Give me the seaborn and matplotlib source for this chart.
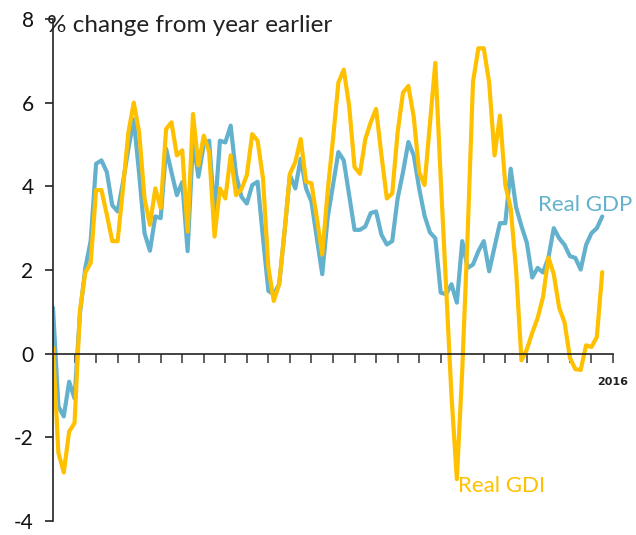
import numpy as np
import pandas as pd
import matplotlib.pyplot as plt
import seaborn as sns

# Quarterly series, 1990 Q1 to 2015 Q3, % change from a year earlier
start_year = 1990
real_gdp = [1.1, -1.26, -1.5, -0.67, -1.07, 0.95, 2.05, 2.7, 4.54, 4.62,
            4.34, 3.55, 3.4, 4.1, 4.9, 5.6, 4.3, 2.88, 2.46, 3.28,
            3.24, 4.9, 4.34, 3.79, 4.1, 2.45, 5.1, 4.23, 5.0, 5.09,
            3.3, 5.09, 5.05, 5.45, 4.27, 3.75, 3.59, 4.03, 4.11, 2.76,
            1.5, 1.42, 1.66, 2.92, 4.27, 3.95, 4.66, 3.95, 3.63, 2.76,
            1.9, 3.24, 4.03, 4.82, 4.62, 3.79, 2.96, 2.96, 3.04, 3.36,
            3.4, 2.84, 2.61, 2.69, 3.71, 4.34, 5.06, 4.74, 3.95, 3.3,
            2.9, 2.76, 1.46, 1.42, 1.66, 1.22, 2.69, 2.05, 2.13, 2.45,
            2.69, 1.97, 2.55, 3.12, 3.12, 4.42, 3.5, 3.05, 2.65, 1.82,
            2.05, 1.94, 2.29, 3.0, 2.76, 2.6, 2.33, 2.29, 2.01, 2.6,
            2.88, 3.0, 3.28]
real_gdi = [0.15, -2.37, -2.84, -1.86, -1.66, 1.03, 1.94, 2.17, 3.91, 3.91,
            3.32, 2.69, 2.69, 3.95, 5.29, 6.0, 5.29, 3.71, 3.08, 3.95,
            3.48, 5.37, 5.53, 4.74, 4.86, 2.92, 5.73, 4.5, 5.21, 4.82,
            2.8, 3.95, 3.71, 4.74, 3.79, 3.93, 4.27, 5.25, 5.09, 4.19,
            2.05, 1.26, 1.66, 2.92, 4.3, 4.58, 5.13, 4.11, 4.07, 3.24,
            2.37, 3.87, 5.13, 6.48, 6.79, 5.92, 4.46, 4.3, 5.13, 5.53,
            5.85, 4.74, 3.71, 3.83, 5.29, 6.24, 6.4, 5.65, 4.34, 4.03,
            5.5, 6.95, 4.2, 1.6, -1.0, -3.0, -0.4, 2.84, 6.5, 7.3,
            7.3, 6.48, 4.74, 5.69, 4.03, 3.48, 2.0, -0.16, 0.1, 0.5,
            0.85, 1.35, 2.3, 1.9, 1.1, 0.75, -0.1, -0.37, -0.39, 0.2,
            0.16, 0.4, 1.95]
y_ticks = [-4, -2, 0, 2, 4, 6, 8]
x_ticks = list(range(1991, 2017))
x_tick_labels = [''] * 25 + ['2016']

blue = '#63b1cd'
yellow = '#ffc000'

sns.set_style('ticks')
plt.rcParams['font.family'] = ['Lato', 'DejaVu Sans']
plt.rcParams['axes.unicode_minus'] = False

df = pd.DataFrame({
    'date': start_year + np.arange(len(real_gdp)) / 4,
    'Real GDP': real_gdp,
    'Real GDI': real_gdi,
})

fig = plt.figure(figsize=(6.36, 5.35), dpi=100)
ax = fig.add_axes([53 / 636, 14 / 535, 560 / 636, 502 / 535])

sns.lineplot(data=df, x='date', y='Real GDP', color=blue, lw=3, ax=ax)
sns.lineplot(data=df, x='date', y='Real GDI', color=yellow, lw=3, ax=ax)

ax.set_xlim(1990, 2016)
ax.set_ylim(-4, 8)
ax.set_xlabel('')
ax.set_ylabel('')

# zero line carries the year ticks
ax.spines['bottom'].set_position(('data', 0))
ax.spines['top'].set_visible(False)
ax.spines['right'].set_visible(False)
for side in ['left', 'bottom']:
    ax.spines[side].set_color('#222222')
    ax.spines[side].set_linewidth(1.2)

ax.set_yticks(y_ticks)
ax.set_yticklabels([str(v) for v in y_ticks], fontsize=15, color='#111111')
ax.tick_params(axis='y', length=6, width=1.2, pad=8, color='#222222')

ax.set_xticks(x_ticks)
ax.set_xticklabels(x_tick_labels, fontsize=8, fontweight='bold',
                   family='DejaVu Sans', color='#222222')
ax.tick_params(axis='x', length=6.5, width=1.2, pad=10, color='#444444')

fig.text(47 / 636, 1 - 25 / 535, '% change from year earlier', fontsize=17.5,
         color='#222222', va='center', ha='left')

ax.text(2012.5, 3.55, 'Real GDP', color=blue, fontsize=16,
        va='center', ha='left', clip_on=False)
ax.text(2008.8, -3.16, 'Real GDI', color=yellow, fontsize=16,
        va='center', ha='left', clip_on=False)

fig.savefig('out.png', dpi=100)
